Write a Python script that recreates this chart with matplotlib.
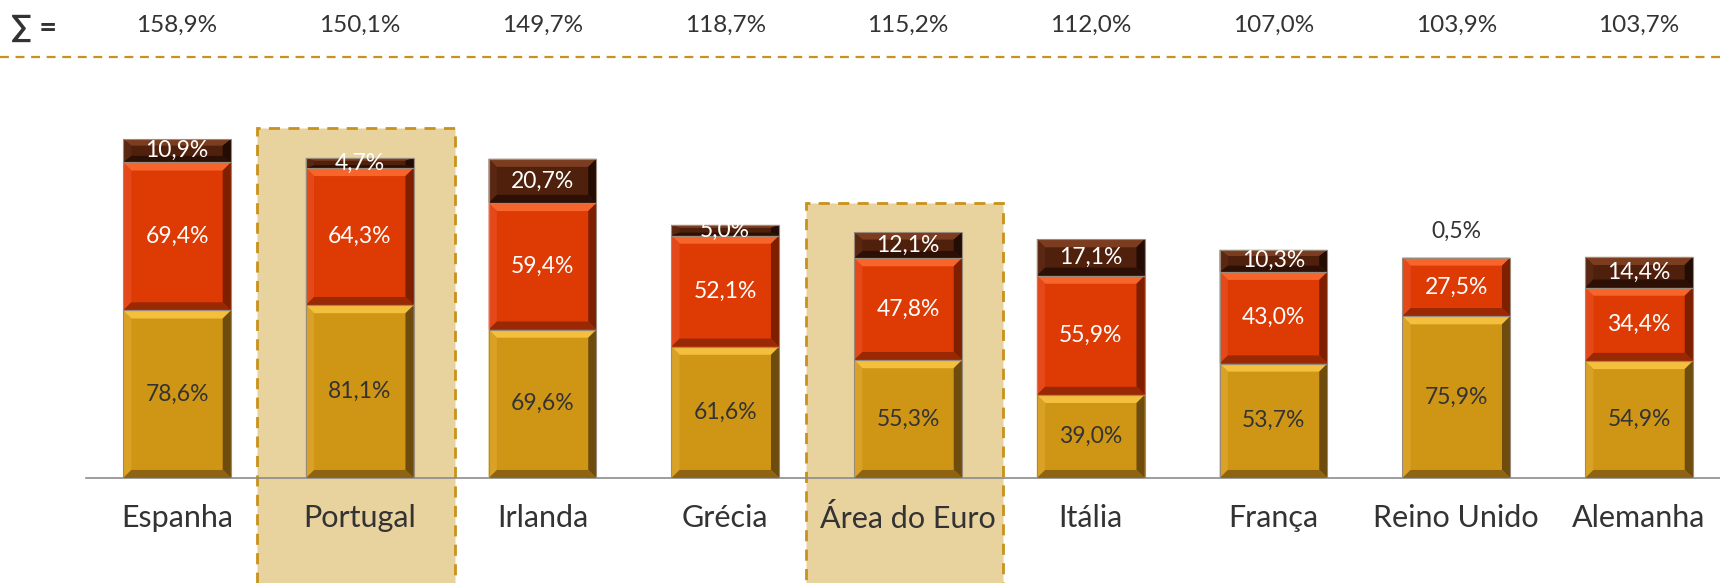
import numpy as np
import matplotlib
matplotlib.use("Agg")
import matplotlib.pyplot as plt
from matplotlib.patches import Polygon, Rectangle
from matplotlib.lines import Line2D
import matplotlib.transforms as mtransforms

plt.rcParams['font.family'] = ['Lato', 'DejaVu Sans']

countries = ["Espanha", "Portugal", "Irlanda", "Grécia", "Área do Euro",
             "Itália", "França", "Reino Unido", "Alemanha"]
base = [78.6, 81.1, 69.6, 61.6, 55.3, 39.0, 53.7, 75.9, 54.9]
middle = [69.4, 64.3, 59.4, 52.1, 47.8, 55.9, 43.0, 27.5, 34.4]
top = [10.9, 4.7, 20.7, 5.0, 12.1, 17.1, 10.3, 0.5, 14.4]
totals = [158.9, 150.1, 149.7, 118.7, 115.2, 112.0, 107.0, 103.9, 103.7]
highlight = ["Portugal", "Área do Euro"]

# main, top bevel, left bevel, right bevel, bottom bevel
gold = ["#CF9616", "#F4BF3C", "#D9A226", "#6E4C0E", "#8E6412"]
red = ["#DE3A03", "#F7652C", "#E5491A", "#7E2000", "#992805"]
brown = ["#4F200C", "#7B3C1F", "#5A2812", "#220C03", "#2C1006"]

txt = "#333333"


def fmt(v):
    return ("%.1f%%" % v).replace(".", ",")


def bevel_bar(ax, xc, y0, h, w, cols, bx=0.045, by=3.8):
    x0, x1 = xc - w / 2, xc + w / 2
    y1 = y0 + h
    by = min(by, h * 0.28)
    ax.add_patch(Rectangle((x0, y0), w, h, facecolor=cols[0], edgecolor="none", zorder=3))
    faces = [
        ([(x0, y1), (x1, y1), (x1 - bx, y1 - by), (x0 + bx, y1 - by)], cols[1]),
        ([(x0, y0), (x0, y1), (x0 + bx, y1 - by), (x0 + bx, y0 + by)], cols[2]),
        ([(x1, y0), (x1, y1), (x1 - bx, y1 - by), (x1 - bx, y0 + by)], cols[3]),
        ([(x0, y0), (x1, y0), (x1 - bx, y0 + by), (x0 + bx, y0 + by)], cols[4]),
    ]
    for pts, c in faces:
        ax.add_patch(Polygon(pts, closed=True, facecolor=c, edgecolor="none", zorder=3))
    ax.add_patch(Rectangle((x0, y0), w, h, facecolor="none", edgecolor="#9A8A7A",
                           linewidth=0.8, zorder=4))


fig = plt.figure(figsize=(17.2, 5.83), dpi=100)
ax = fig.add_axes([0.05, 0.18, 0.95, 0.717])

x = np.arange(len(countries))
width = 0.59
ax.set_xlim(-0.498, len(countries) - 1 + 0.443)
ax.set_ylim(0, 196)

# highlight boxes for Portugal and Euro area
for i, c in enumerate(countries):
    if c in highlight:
        bw = 1.08
        ytop = totals[i] + 14
        ax.add_patch(Rectangle((x[i] - 0.02 - bw / 2, -80), bw, ytop + 80,
                               facecolor="#E8D29E", edgecolor="#C8921C", linewidth=2,
                               linestyle=(0, (4, 3)), clip_on=False, zorder=1))

for i in range(len(countries)):
    bevel_bar(ax, x[i], 0, base[i], width, gold)
    bevel_bar(ax, x[i], base[i], middle[i], width, red)
    if top[i] >= 1:
        bevel_bar(ax, x[i], base[i] + middle[i], top[i], width, brown)

    ax.text(x[i], base[i] / 2, fmt(base[i]), ha="center", va="center",
            fontsize=16.5, color=txt, zorder=5)
    ax.text(x[i], base[i] + middle[i] / 2, fmt(middle[i]), ha="center", va="center",
            fontsize=16.5, color="white", zorder=5)
    if top[i] >= 1:
        ax.text(x[i], base[i] + middle[i] + top[i] / 2, fmt(top[i]), ha="center",
                va="center", fontsize=16.5, color="white", zorder=5)
    else:
        ax.text(x[i], base[i] + middle[i] + top[i] + 12, fmt(top[i]), ha="center",
                va="center", fontsize=16.5, color=txt, zorder=5)

ax.set_xticks(x)
ax.set_xticklabels(countries, fontsize=22, color=txt)
ax.tick_params(axis="x", length=0, pad=19)
ax.set_yticks([])
for s in ["top", "left", "right"]:
    ax.spines[s].set_visible(False)
ax.spines["bottom"].set_color("#8C8C8C")
ax.spines["bottom"].set_linewidth(1.2)
ax.patch.set_visible(False)

# sums row
trans = mtransforms.blended_transform_factory(ax.transData, fig.transFigure)
for i in range(len(countries)):
    ax.text(x[i], 1 - 25 / 583, fmt(totals[i]), transform=trans, ha="center",
            va="center", fontsize=17.5, color=txt)
fig.text(11 / 1720, 1 - 28 / 583, "∑ =", ha="left", va="center", fontsize=22,
         fontweight="bold", color=txt)
fig.add_artist(Line2D([0, 1], [1 - 57 / 583, 1 - 57 / 583], transform=fig.transFigure,
                      color="#C8921C", linewidth=1.6, linestyle=(0, (4, 3))))

fig.savefig("out.png", dpi=100)
